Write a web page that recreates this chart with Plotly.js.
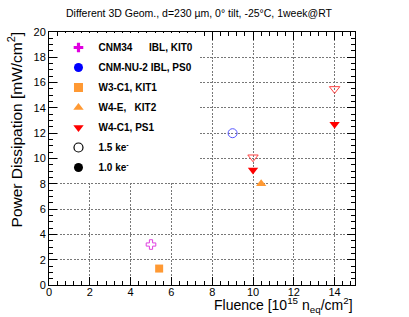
<!DOCTYPE html>
<html><head><meta charset="utf-8">
<script src="https://cdn.plot.ly/plotly-3.0.1.min.js"></script>
<style>html,body{margin:0;padding:0;background:#fff;}</style>
</head><body><div id="chart" style="width:409px;height:317px;"></div>
<script>
// Legend labels
const seriesNames = ['CNM34\u00a0\u00a0\u00a0\u00a0\u00a0 IBL, KIT0', 'CNM-NU-2 IBL, PS0', 'W3-C1, KIT1', 'W4-E,\u00a0\u00a0 KIT2', 'W4-C1, PS1'];
const thresholdNames = ['1.5 ke<sup>-</sup>', '1.0 ke<sup>-</sup>'];
// Data (fluence in 1e15 neq/cm2, power in mW/cm2)
const cnm34X = [5.0],  cnm34Y = [3.2];     // 1.5 ke
const cnmnu2X = [9.0], cnmnu2Y = [12.0];   // 1.5 ke
const w3c1X = [5.4],   w3c1Y = [1.3];      // 1.0 ke
const w4eX = [10.4],   w4eY = [8.0];       // 1.0 ke
const w4c1OpenX = [10, 14], w4c1OpenY = [10.1, 15.5]; // 1.5 ke
const w4c1FillX = [10, 14], w4c1FillY = [9.1, 12.7];  // 1.0 ke
const xTicks = [0, 2, 4, 6, 8, 10, 12, 14];
const yTicks = [0, 2, 4, 6, 8, 10, 12, 14, 16, 18, 20];

const magenta = '#e000e0', blue = '#0000ff', orange = '#ff9933', red = '#ff0000';

function legendTrace(name, symbol, color, g, size) {
  return {x: [null], y: [null], type: 'scatter', mode: 'markers', name: name, legendgroup: g,
    marker: {symbol: symbol, size: size || 9, color: color, line: {width: symbol.indexOf('open') >= 0 ? 1.2 : 0, color: color}},
    hoverinfo: 'skip'};
}
function dataTrace(x, y, symbol, color, open, size) {
  return {x: x, y: y, type: 'scatter', mode: 'markers', showlegend: false,
    marker: {symbol: symbol, size: size || 9, color: color, line: {width: open ? 1 : 0, color: color}}};
}
const traces = [
  dataTrace(cnm34X, cnm34Y, 'cross-open', '#e040e0', true, 8),
  dataTrace(cnmnu2X, cnmnu2Y, 'circle-open', '#5555ff', true),
  dataTrace(w3c1X, w3c1Y, 'square', orange, false, 8),
  dataTrace(w4eX, w4eY, 'triangle-up', orange, false),
  dataTrace(w4c1OpenX, w4c1OpenY, 'triangle-down-open', '#ff4040', true),
  dataTrace(w4c1FillX, w4c1FillY, 'triangle-down', red, false),
  legendTrace(seriesNames[0], 'cross', magenta, 'a', 8),
  legendTrace(seriesNames[1], 'circle', blue, 'b'),
  legendTrace(seriesNames[2], 'square', orange, 'c'),
  legendTrace(seriesNames[3], 'triangle-up', orange, 'd'),
  legendTrace(seriesNames[4], 'triangle-down', red, 'e'),
  legendTrace(thresholdNames[0], 'circle-open', '#000', 'f'),
  legendTrace(thresholdNames[1], 'circle', '#000', 'g')
];
const font = 'Liberation Sans, Arial, Helvetica, sans-serif';
const axisCommon = {
  showline: true, linecolor: '#000', linewidth: 1, mirror: 'allticks',
  ticks: 'inside', ticklen: 8, tickcolor: '#000', tickwidth: 1,
  showgrid: true, gridcolor: '#777', griddash: '2px,1.5px', gridwidth: 1,
  zeroline: false, tickfont: {family: font, size: 11, color: '#000'},
  tickmode: 'array',
  minor: {ticks: 'inside', ticklen: 4, tickcolor: '#000', showgrid: false}
};
const layout = {
  width: 409, height: 317,
  margin: {l: 49, r: 54, t: 32, b: 32, pad: 0},
  paper_bgcolor: '#fff', plot_bgcolor: '#fff',
  font: {family: font, color: '#000'},
  title: {text: 'Different 3D Geom., d=230 \u00b5m, 0\u00b0 tilt, -25\u00b0C, 1week@RT',
    font: {family: font, size: 10.5, color: '#000'}, x: 0.4866, xanchor: 'center', y: 0.958, yanchor: 'middle'},
  xaxis: Object.assign({}, axisCommon, {range: [0, 15], tickvals: xTicks, ticktext: xTicks.map(String),
    ticklabelstandoff: -3,
    minor: Object.assign({}, axisCommon.minor, {dtick: 0.4, tick0: 0})}),
  yaxis: Object.assign({}, axisCommon, {range: [0, 20], tickvals: yTicks, ticktext: yTicks.map(String),
    minor: Object.assign({}, axisCommon.minor, {dtick: 0.5, tick0: 0})}),
  showlegend: true,
  legend: {x: 0.031, xanchor: 'left', y: 0.996, yanchor: 'top', bgcolor: '#fff', borderwidth: 0,
    traceorder: 'grouped', tracegroupgap: 1, font: {family: font, size: 10, color: '#000', weight: 'bold'},
    itemwidth: 30},
  annotations: [
    {text: 'Power Dissipation [mW/cm<sup>2</sup>]', xref: 'paper', yref: 'paper', x: -0.108, y: 1.01,
      xanchor: 'center', yanchor: 'top', textangle: -90, showarrow: false, font: {family: font, size: 15.5, color: '#000'}},
    {text: 'Fluence [10<sup>15</sup> n<sub>eq</sub>/cm<sup>2</sup>]', xref: 'paper', yref: 'paper', x: 1.0, y: -0.08,
      xanchor: 'right', yanchor: 'middle', showarrow: false, font: {family: font, size: 14, color: '#000'}}
  ]
};
Plotly.newPlot('chart', traces, layout, {displayModeBar: false, staticPlot: true});
</script></body></html>
